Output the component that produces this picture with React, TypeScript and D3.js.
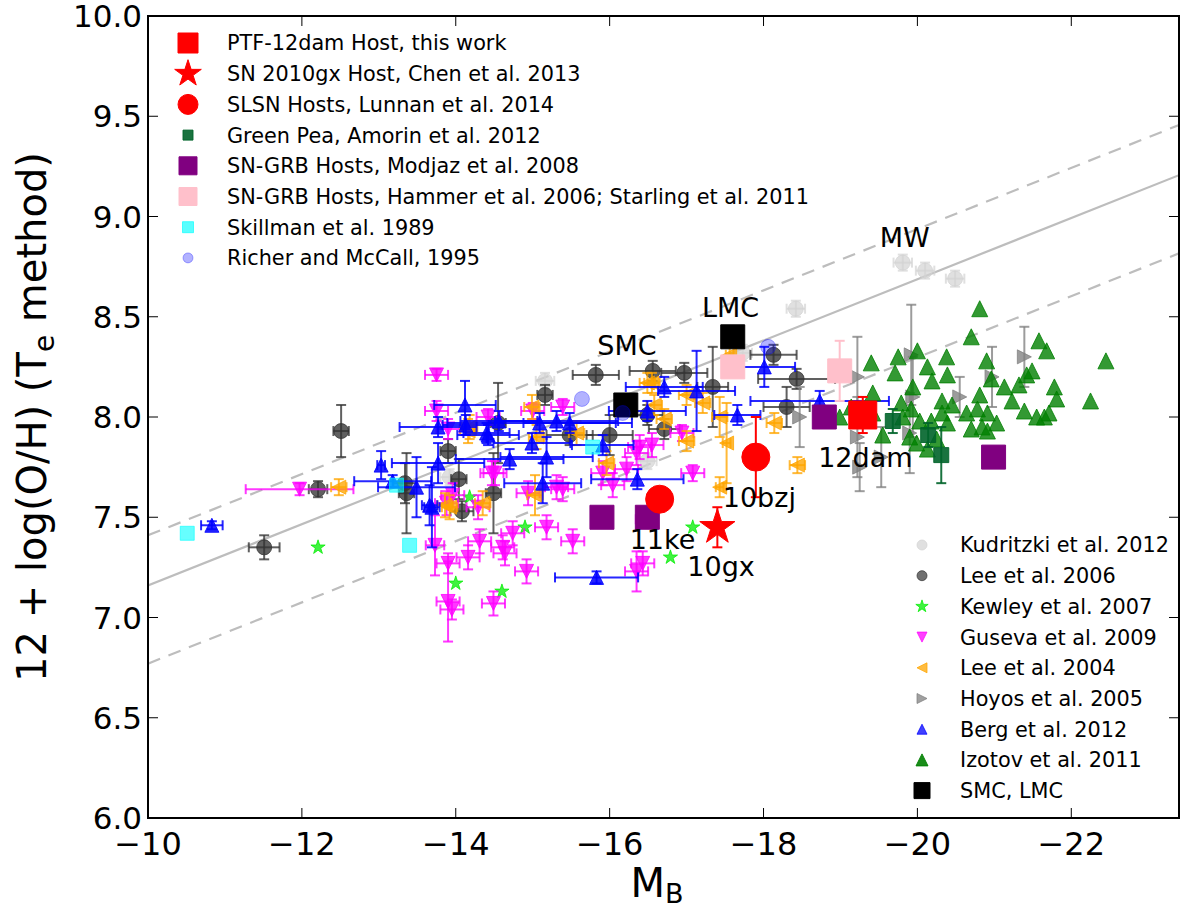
import * as d3 from 'd3';

// [M_B, 12+log(O/H), xerr, yerr]
type Pt = [number, number, number?, number?];

const X_TICKS = [-10, -12, -14, -16, -18, -20, -22];
const Y_TICKS = [6.0, 6.5, 7.0, 7.5, 8.0, 8.5, 9.0, 9.5, 10.0];

// L-Z relation and its scatter envelope
const FIT_INTERCEPT = 5.633;
const FIT_SLOPE = -0.1527;
const FIT_OFFSETS = [0.25, -0.39];

const KUDRITZKI: Pt[] = [
  [-19.81, 8.77, 0.12, 0.04], [-20.10, 8.73, 0.12, 0.04], [-20.49, 8.69, 0.12, 0.04],
  [-18.42, 8.54, 0.12, 0.04], [-17.73, 8.32, 0.12, 0.04], [-15.16, 8.18, 0.12, 0.04],
  [-16.49, 7.78, 0.12, 0.04], [-13.92, 7.70, 0.12, 0.04],
];

const LEE06: Pt[] = [
  [-11.51, 7.35, 0.2, 0.06], [-12.21, 7.64, 0.12, 0.04], [-12.51, 7.93, 0.1, 0.13],
  [-13.36, 7.62, 0.1, 0.2], [-13.34, 7.67, 0.15, 0.1], [-13.90, 7.83, 0.1, 0.06],
  [-14.04, 7.69, 0.1, 0.1], [-14.08, 7.53, 0.15, 0.05], [-14.55, 7.97, 0.1, 0.2],
  [-14.49, 7.62, 0.1, 0.2], [-15.16, 8.11, 0.1, 0.05], [-15.82, 8.21, 0.3, 0.05],
  [-16.00, 7.91, 0.3, 0.1], [-16.56, 8.23, 0.3, 0.05], [-16.97, 8.22, 0.3, 0.05],
  [-17.34, 8.15, 0.2, 0.2], [-18.13, 8.31, 0.3, 0.05], [-18.43, 8.19, 0.5, 0.05],
  [-18.30, 8.05, 0.3, 0.1], [-16.49, 8.01, 0.2, 0.05], [-16.71, 7.94, 0.2, 0.05],
  [-15.48, 7.91, 0.3, 0.05],
];

const KEWLEY: Pt[] = [
  [-12.21, 7.35], [-14.00, 7.17], [-14.18, 7.60], [-14.90, 7.45],
  [-14.60, 7.13], [-17.08, 7.45], [-16.79, 7.30],
];

const GUSEVA: Pt[] = [
  [-13.75, 8.21, 0.15, 0.03], [-13.75, 8.03, 0.15, 0.05], [-13.90, 7.94, 0.15, 0.05],
  [-11.97, 7.64, 0.7, 0.03], [-13.73, 7.36, 0.12, 0.15], [-13.90, 7.27, 0.15, 0.05],
  [-14.16, 7.30, 0.15, 0.06], [-13.90, 7.08, 0.15, 0.2], [-13.95, 7.04, 0.15, 0.05],
  [-14.31, 7.38, 0.15, 0.06], [-14.61, 7.35, 0.15, 0.06], [-14.74, 7.42, 0.15, 0.06],
  [-14.64, 7.32, 0.15, 0.06], [-14.92, 7.23, 0.15, 0.06], [-15.18, 7.45, 0.15, 0.06],
  [-15.52, 7.38, 0.15, 0.06], [-14.49, 7.07, 0.15, 0.06], [-16.43, 7.27, 0.15, 0.06],
  [-16.35, 7.23, 0.15, 0.1], [-13.88, 7.57, 0.15, 0.06], [-14.47, 7.72, 0.15, 0.06],
  [-14.94, 7.62, 0.15, 0.06], [-15.39, 7.64, 0.15, 0.06], [-16.04, 7.66, 0.15, 0.06],
  [-16.35, 7.82, 0.15, 0.06], [-14.29, 7.55, 0.15, 0.06], [-15.39, 8.05, 0.15, 0.04],
  [-14.42, 8.00, 0.15, 0.04], [-14.51, 7.72, 0.15, 0.06], [-15.31, 7.65, 0.15, 0.06],
  [-13.96, 7.61, 0.15, 0.06], [-16.39, 7.85, 0.15, 0.06], [-16.22, 7.74, 0.15, 0.06],
  [-15.91, 7.72, 0.15, 0.06], [-17.08, 7.72, 0.15, 0.04], [-16.94, 7.92, 0.15, 0.04],
  [-16.55, 7.86, 0.15, 0.06], [-15.00, 8.03, 0.15, 0.04], [-16.44, 7.49, 0.1, 0.04],
];

const LEE04: Pt[] = [
  [-12.48, 7.65, 0.1, 0.04], [-13.92, 7.55, 0.1, 0.06], [-14.16, 7.93, 0.1, 0.06],
  [-14.35, 7.57, 0.1, 0.06], [-14.18, 7.95, 0.1, 0.06], [-13.86, 7.56, 0.1, 0.06],
  [-14.99, 8.05, 0.1, 0.06], [-15.57, 7.92, 0.1, 0.06], [-15.05, 7.90, 0.1, 0.06],
  [-15.03, 7.61, 0.1, 0.1], [-15.96, 7.77, 0.1, 0.06], [-16.49, 8.17, 0.1, 0.05],
  [-16.55, 8.17, 0.1, 0.05], [-16.58, 8.06, 0.1, 0.05], [-17.00, 8.11, 0.1, 0.05],
  [-17.21, 8.07, 0.1, 0.05], [-16.71, 7.99, 0.1, 0.05], [-17.00, 7.88, 0.1, 0.05],
  [-17.43, 8.00, 0.1, 0.1], [-17.52, 7.87, 0.05, 0.2], [-17.43, 7.65, 0.05, 0.05],
  [-18.14, 7.97, 0.1, 0.05], [-18.44, 7.76, 0.1, 0.04], [-17.56, 8.31, 0.05, 0.05],
];

const HOYOS: Pt[] = [
  [-18.47, 8.00, 0, 0.15], [-19.22, 8.20, 0, 0.2], [-19.92, 8.31, 0, 0.25],
  [-19.94, 8.10, 0, 0.2], [-20.55, 8.10, 0, 0.1], [-20.97, 8.20, 0, 0.15],
  [-21.39, 8.30, 0, 0.15], [-19.22, 7.90, 0, 0.2], [-19.53, 7.80, 0, 0.15],
  [-19.90, 7.92, 0, 0.2], [-19.25, 7.75, 0, 0.12],
];

const BERG: Pt[] = [
  [-10.83, 7.46, 0.14, 0.02], [-13.03, 7.76, 0.05, 0.07], [-13.18, 7.68, 0.5, 0.03],
  [-13.49, 7.65, 0.5, 0.15], [-13.69, 7.55, 0.1, 0.2], [-13.77, 7.95, 0.5, 0.05],
  [-14.12, 8.06, 0.4, 0.12], [-13.77, 7.77, 0.6, 0.1], [-14.13, 7.96, 0.3, 0.05],
  [-14.40, 7.92, 0.3, 0.05], [-14.42, 7.91, 0.4, 0.05], [-14.56, 7.98, 0.5, 0.05],
  [-13.66, 7.56, 0.1, 0.1], [-14.70, 7.79, 0.7, 0.05], [-14.99, 7.87, 0.5, 0.05],
  [-15.09, 7.97, 1.2, 0.05], [-15.31, 7.98, 0.8, 0.05], [-15.48, 7.97, 0.6, 0.05],
  [-15.18, 7.80, 0.6, 0.1], [-15.13, 7.67, 0.5, 0.1], [-15.91, 7.86, 0.4, 0.05],
  [-16.36, 7.69, 0.6, 0.05], [-16.49, 8.03, 0.5, 0.05], [-16.71, 8.15, 0.5, 0.05],
  [-17.13, 8.13, 0.5, 0.2], [-17.66, 8.01, 0.3, 0.05], [-18.01, 8.25, 0.4, 0.1],
  [-18.73, 8.08, 0.9, 0.05], [-15.83, 7.20, 0.54, 0.03],
];

const IZOTOV: Pt[] = [
  [-20.81, 8.54], [-20.70, 8.40], [-21.58, 8.38], [-21.68, 8.33], [-22.45, 8.28],
  [-19.40, 8.27], [-19.75, 8.30], [-20.00, 8.33], [-20.38, 8.30], [-20.90, 8.28],
  [-19.71, 8.22], [-20.13, 8.25], [-20.39, 8.21], [-20.19, 8.18], [-21.49, 8.23],
  [-21.42, 8.21], [-21.32, 8.16], [-21.78, 8.15], [-21.13, 8.15], [-20.96, 8.19],
  [-19.42, 8.12], [-19.94, 8.15], [-20.81, 8.11], [-21.81, 8.09], [-22.25, 8.08],
  [-21.23, 8.08], [-20.32, 8.08], [-19.79, 8.07], [-20.45, 8.06], [-20.64, 8.02],
  [-20.78, 8.04], [-20.91, 8.02], [-21.03, 7.97], [-20.84, 7.95], [-20.70, 7.94],
  [-21.39, 8.03], [-21.55, 8.00], [-21.65, 8.00], [-21.71, 8.02], [-20.32, 8.02],
  [-19.92, 8.04], [-19.81, 8.00], [-20.03, 7.98], [-20.18, 7.98], [-20.39, 7.97],
  [-19.90, 7.90], [-19.99, 7.87], [-20.13, 7.84], [-20.25, 7.89], [-19.55, 7.91],
  [-19.42, 8.02], [-18.99, 8.00], [-20.91, 7.93], [-19.14, 8.05],
];

const SMC_LMC: Pt[] = [[-16.21, 8.06], [-17.60, 8.40]];
const GREEN_PEA: Pt[] = [[-19.68, 7.98, 0, 0.06], [-20.14, 7.91, 0, 0.06], [-20.31, 7.81, 0, 0.14]];
const MODJAZ: Pt[] = [[-15.90, 7.50], [-16.49, 7.50], [-18.79, 8.00], [-20.99, 7.80]];
const HAMMER: Pt[] = [[-17.60, 8.25], [-18.99, 8.23, 0, 0.15]];
const SKILLMAN: Pt[] = [[-10.51, 7.42], [-13.40, 7.36], [-15.78, 7.85], [-13.23, 7.66]];
const RICHER: Pt[] = [[-15.64, 8.09], [-18.06, 8.35], [-16.17, 8.02]];
const LUNNAN: Pt[] = [[-17.90, 7.80, 0, 0.2], [-16.65, 7.59]];
const CHEN: Pt[] = [[-17.40, 7.45, 0, 0.1]];
const PTF12DAM: Pt[] = [[-19.29, 8.01, 0, 0.09]];

const LABELS: { text: string; m: number; z: number }[] = [
  { text: 'SMC', m: -15.84, z: 8.31 },
  { text: 'LMC', m: -17.20, z: 8.50 },
  { text: 'MW', m: -19.51, z: 8.85 },
  { text: '12dam', m: -18.71, z: 7.75 },
  { text: '10bzj', m: -17.47, z: 7.55 },
  { text: '11ke', m: -16.26, z: 7.34 },
  { text: '10gx', m: -17.01, z: 7.205 },
];

const W = 1181;
const H = 911;
const FONT = '"DejaVu Sans", sans-serif';

const x = d3.scaleLinear().domain([-10, -23.4]).range([148, 1179]);
const y = d3.scaleLinear().domain([6, 10]).range([818, 16]);

type Shape = 'o' | 's' | '^' | 'v' | '<' | '>' | '*';

function markerPath(shape: Shape, r: number): string {
  switch (shape) {
    case 's': return `M${-r},${-r}H${r}V${r}H${-r}Z`;
    case '^': return `M0,${-r}L${r},${r}L${-r},${r}Z`;
    case 'v': return `M0,${r}L${r},${-r}L${-r},${-r}Z`;
    case '<': return `M${-r},0L${r},${-r}L${r},${r}Z`;
    case '>': return `M${r},0L${-r},${-r}L${-r},${r}Z`;
    case '*': {
      const pts: string[] = [];
      for (let i = 0; i < 10; i++) {
        const rr = i % 2 === 0 ? r : r * 0.382;
        const a = -Math.PI / 2 + (i * Math.PI) / 5;
        pts.push(`${(rr * Math.cos(a)).toFixed(2)},${(rr * Math.sin(a)).toFixed(2)}`);
      }
      return 'M' + pts.join('L') + 'Z';
    }
    default:
      return d3.arc()({ innerRadius: 0, outerRadius: r, startAngle: 0, endAngle: 2 * Math.PI }) || '';
  }
}

interface SeriesProps {
  data: Pt[];
  shape: Shape;
  r: number;
  color: string;
  alpha?: number;
  ecolor?: string;
}

function Series({ data, shape, r, color, alpha = 1, ecolor }: SeriesProps) {
  const ec = ecolor || color;
  const cap = 5;
  const d = markerPath(shape, r);
  return (
    <g>
      {data.map(([m, z, xe, ye], i) => {
        const cx = x(m), cy = y(z);
        return (
          <g key={'e' + i} stroke={ec} strokeWidth={2} strokeOpacity={alpha} fill="none">
            {xe ? (
              <>
                <line x1={x(m - xe)} x2={x(m + xe)} y1={cy} y2={cy} />
                <line x1={x(m - xe)} x2={x(m - xe)} y1={cy - cap} y2={cy + cap} />
                <line x1={x(m + xe)} x2={x(m + xe)} y1={cy - cap} y2={cy + cap} />
              </>
            ) : null}
            {ye ? (
              <>
                <line x1={cx} x2={cx} y1={y(z - ye)} y2={y(z + ye)} />
                <line x1={cx - cap} x2={cx + cap} y1={y(z - ye)} y2={y(z - ye)} />
                <line x1={cx - cap} x2={cx + cap} y1={y(z + ye)} y2={y(z + ye)} />
              </>
            ) : null}
          </g>
        );
      })}
      {data.map(([m, z], i) => (
        <path key={'m' + i} d={d} transform={`translate(${x(m)},${y(z)})`}
          fill={color} fillOpacity={alpha} stroke={color} strokeOpacity={alpha} strokeWidth={1} />
      ))}
    </g>
  );
}

interface LegendItem { label: string; shape: Shape; r: number; color: string; alpha?: number }

const LEGEND_HOSTS: LegendItem[] = [
  { label: 'PTF-12dam Host, this work', shape: 's', r: 10, color: '#ff0000' },
  { label: 'SN 2010gx Host, Chen et al. 2013', shape: '*', r: 14, color: '#ff0000' },
  { label: 'SLSN Hosts, Lunnan et al. 2014', shape: 'o', r: 10, color: '#ff0000' },
  { label: 'Green Pea, Amorin et al. 2012', shape: 's', r: 5, color: '#00642a', alpha: 0.9 },
  { label: 'SN-GRB Hosts, Modjaz et al. 2008', shape: 's', r: 9, color: '#800080' },
  { label: 'SN-GRB Hosts, Hammer et al. 2006; Starling et al. 2011', shape: 's', r: 9, color: '#ffc0cb' },
  { label: 'Skillman et al. 1989', shape: 's', r: 5.5, color: '#00ffff', alpha: 0.65 },
  { label: 'Richer and McCall, 1995', shape: 'o', r: 5, color: '#0000ff', alpha: 0.3 },
];

const LEGEND_SAMPLES: LegendItem[] = [
  { label: 'Kudritzki et al. 2012', shape: 'o', r: 5, color: '#d3d3d3', alpha: 0.7 },
  { label: 'Lee et al. 2006', shape: 'o', r: 5, color: '#333333', alpha: 0.7 },
  { label: 'Kewley et al. 2007', shape: '*', r: 6.5, color: '#00ee00', alpha: 0.75 },
  { label: 'Guseva et al. 2009', shape: 'v', r: 5, color: '#ff00ff', alpha: 0.75 },
  { label: 'Lee et al. 2004', shape: '<', r: 5, color: '#ffa500', alpha: 0.75 },
  { label: 'Hoyos et al. 2005', shape: '>', r: 5, color: '#808080', alpha: 0.75 },
  { label: 'Berg et al. 2012', shape: '^', r: 5, color: '#0000ff', alpha: 0.75 },
  { label: 'Izotov et al. 2011', shape: '^', r: 6, color: '#008000', alpha: 0.9 },
  { label: 'SMC, LMC', shape: 's', r: 8, color: '#000000' },
];

function Legend({ items, mx, tx, y0, dy }: { items: LegendItem[]; mx: number; tx: number; y0: number; dy: number }) {
  return (
    <g>
      {items.map((it, i) => {
        const yy = y0 + i * dy;
        return (
          <g key={it.label}>
            <path d={markerPath(it.shape, it.r)} transform={`translate(${mx},${yy})`}
              fill={it.color} fillOpacity={it.alpha ?? 1} stroke={it.color} strokeOpacity={it.alpha ?? 1} />
            <text x={tx} y={yy} dy="0.36em" fontSize={20.8} fontFamily={FONT} fill="#000">{it.label}</text>
          </g>
        );
      })}
    </g>
  );
}

export default function App() {
  const [x0, x1] = x.domain();
  const fit = (m: number, off: number) => FIT_INTERCEPT + FIT_SLOPE * m + off;
  const minus = (v: number) => (v < 0 ? '\u2212' + Math.abs(v) : String(v));

  return (
    <svg width={W} height={H} viewBox={`0 0 ${W} ${H}`}
      style={{ position: 'absolute', left: 0, top: 0, background: '#fff' }}>
      <defs>
        <clipPath id="plot-area">
          <rect x={148} y={16} width={1179 - 148} height={818 - 16} />
        </clipPath>
      </defs>

      <g clipPath="url(#plot-area)">
        <line x1={x(x0)} x2={x(x1)} y1={y(fit(x0, 0))} y2={y(fit(x1, 0))}
          stroke="#bdbdbd" strokeWidth={2.2} />
        {FIT_OFFSETS.map(off => (
          <line key={off} x1={x(x0)} x2={x(x1)} y1={y(fit(x0, off))} y2={y(fit(x1, off))}
            stroke="#bdbdbd" strokeWidth={2.2} strokeDasharray="13 9" />
        ))}

        <Series data={KUDRITZKI} shape="o" r={7.5} color="#d3d3d3" alpha={0.7} />
        <Series data={LEE06} shape="o" r={7.5} color="#333333" alpha={0.78} />
        <Series data={KEWLEY} shape="*" r={7.5} color="#00ee00" alpha={0.75} />
        <Series data={GUSEVA} shape="v" r={7} color="#ff00ff" alpha={0.78} />
        <Series data={LEE04} shape="<" r={7} color="#ffa500" alpha={0.78} />
        <Series data={HOYOS} shape=">" r={7} color="#808080" alpha={0.78} />
        <Series data={BERG} shape="^" r={7} color="#0000ff" alpha={0.85} />
        <Series data={IZOTOV} shape="^" r={8} color="#008000" alpha={0.8} />
        <Series data={SMC_LMC} shape="s" r={12} color="#000000" />
        <Series data={GREEN_PEA} shape="s" r={7.5} color="#00642a" alpha={0.9} />
        <Series data={MODJAZ} shape="s" r={12} color="#800080" />
        <Series data={HAMMER} shape="s" r={12} color="#ffc0cb" />
        <Series data={SKILLMAN} shape="s" r={7} color="#00ffff" alpha={0.6} />
        <Series data={RICHER} shape="o" r={7.5} color="#0000ff" alpha={0.3} />
        <Series data={LUNNAN} shape="o" r={14} color="#ff0000" />
        <Series data={CHEN} shape="*" r={18.5} color="#ff0000" />
        <Series data={PTF12DAM} shape="s" r={14} color="#ff0000" />
      </g>

      {LABELS.map(l => (
        <text key={l.text} x={x(l.m)} y={y(l.z)} fontSize={27} fontFamily={FONT} fill="#000">{l.text}</text>
      ))}

      <Legend items={LEGEND_HOSTS} mx={188} tx={227} y0={43} dy={30.7} />
      <Legend items={LEGEND_SAMPLES} mx={922} tx={960} y0={545} dy={30.7} />

      {/* frame and ticks */}
      <rect x={148} y={16} width={1179 - 148} height={818 - 16} fill="none" stroke="#000" strokeWidth={2} />
      {X_TICKS.map(t => (
        <g key={'x' + t}>
          <line x1={x(t)} x2={x(t)} y1={818} y2={808} stroke="#000" strokeWidth={1} />
          <line x1={x(t)} x2={x(t)} y1={16} y2={26} stroke="#000" strokeWidth={1} />
          <text x={x(t)} y={855} textAnchor="middle" fontSize={32} fontFamily={FONT} fill="#000">{minus(t)}</text>
        </g>
      ))}
      {Y_TICKS.map(t => (
        <g key={'y' + t}>
          <line x1={148} x2={158} y1={y(t)} y2={y(t)} stroke="#000" strokeWidth={1} />
          <line x1={1179} x2={1169} y1={y(t)} y2={y(t)} stroke="#000" strokeWidth={1} />
          <text x={142} y={y(t)} dy="0.36em" textAnchor="end" fontSize={31} fontFamily={FONT} fill="#000">{t.toFixed(1)}</text>
        </g>
      ))}

      <text x={657} y={897} textAnchor="middle" fontSize={40} fontFamily={FONT} fill="#000">
        M<tspan fontSize={27} dy={6}>B</tspan>
      </text>
      <text transform="translate(46,417) rotate(-90)" textAnchor="middle" fontSize={40} fontFamily={FONT} fill="#000">
        12 + log(O/H) (T<tspan fontSize={28} dy={8}>e</tspan><tspan dy={-8}> method)</tspan>
      </text>
    </svg>
  );
}
